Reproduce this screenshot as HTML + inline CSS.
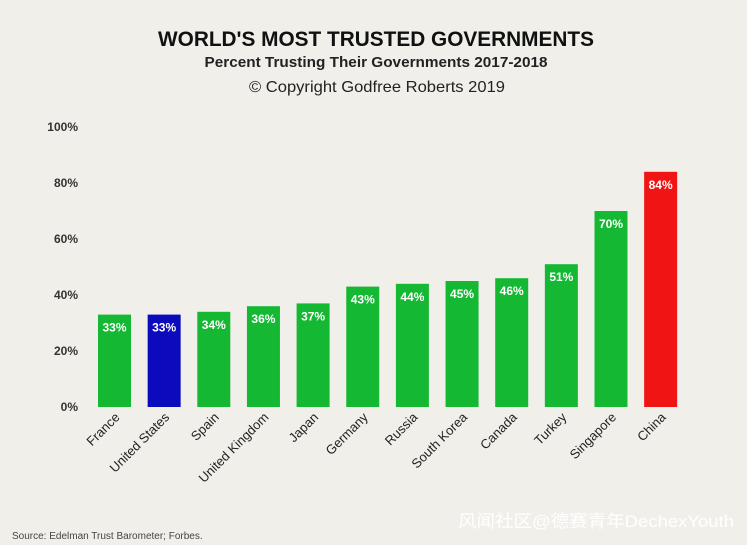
<!DOCTYPE html>
<html><head><meta charset="utf-8"><style>
html,body{margin:0;padding:0;background:#f0efea;}
svg{display:block;font-family:"Liberation Sans","Noto Sans CJK SC",sans-serif;}
</style></head><body>
<svg width="747" height="545" viewBox="0 0 747 545">
<rect x="0" y="0" width="747" height="545" fill="#f0efea"/>
<text x="376" y="46" text-anchor="middle" font-size="21" font-weight="bold" fill="#111" textLength="436" lengthAdjust="spacingAndGlyphs">WORLD'S MOST TRUSTED GOVERNMENTS</text>
<text x="376" y="67" text-anchor="middle" font-size="14.5" font-weight="bold" fill="#222" textLength="343" lengthAdjust="spacingAndGlyphs">Percent Trusting Their Governments 2017-2018</text>
<text x="377" y="92" text-anchor="middle" font-size="16" fill="#222" textLength="256" lengthAdjust="spacingAndGlyphs">© Copyright Godfree Roberts 2019</text>
<g id="yaxis"></g>
<g id="bars"></g>
<g id="xlabels"></g>
<text x="12" y="539" font-size="10" fill="#444">Source: Edelman Trust Barometer; Forbes.</text>
<text x="458" y="527" font-size="17" fill="#ffffff" textLength="276" lengthAdjust="spacingAndGlyphs">风闻社区@德赛青年DechexYouth</text>
</svg>
<script>
const categories=["France","United States","Spain","United Kingdom","Japan","Germany","Russia","South Korea","Canada","Turkey","Singapore","China"];
const values=[33,33,34,36,37,43,44,45,46,51,70,84];
const barColors=["#14b833","#0b0bbd","#14b833","#14b833","#14b833","#14b833","#14b833","#14b833","#14b833","#14b833","#14b833","#f01414"];
const yTicks=[0,20,40,60,80,100];
const NS="http://www.w3.org/2000/svg";
const y0=407,yScale=2.8;
function y(v){return y0-v*yScale;}
function xc(i){return 114.5+i*49.65;}
const ya=document.getElementById('yaxis'),bg=document.getElementById('bars'),xl=document.getElementById('xlabels');
yTicks.forEach(t=>{
 const tx=document.createElementNS(NS,'text');
 
 
 tx.setAttribute('x',78);tx.setAttribute('y',y(t)+4);
 tx.setAttribute('text-anchor','end');tx.setAttribute('font-size','12');tx.setAttribute('font-weight','bold');tx.setAttribute('fill','#333');
 tx.textContent=t+'%';ya.appendChild(tx);
});
values.forEach((v,i)=>{
 const r=document.createElementNS(NS,'rect');
 
 
 r.setAttribute('x',xc(i)-16.5);r.setAttribute('y',y(v));r.setAttribute('width',33);r.setAttribute('height',v*yScale);
 r.setAttribute('fill',barColors[i]);bg.appendChild(r);
 const t=document.createElementNS(NS,'text');
 
 
 t.setAttribute('x',xc(i));t.setAttribute('y',y(v)+17);t.setAttribute('text-anchor','middle');
 t.setAttribute('font-size','12');t.setAttribute('font-weight','bold');t.setAttribute('fill','#fff');
 t.textContent=v+'%';bg.appendChild(t);
 const l=document.createElementNS(NS,'text');
 
 
 const lx=xc(i)+6,ly=418;
 l.setAttribute('x',lx);l.setAttribute('y',ly);l.setAttribute('text-anchor','end');
 l.setAttribute('transform','rotate(-45 '+lx+' '+ly+')');
 l.setAttribute('font-size','13');l.setAttribute('fill','#222');
 l.textContent=categories[i];xl.appendChild(l);
});
</script>
</body></html>
